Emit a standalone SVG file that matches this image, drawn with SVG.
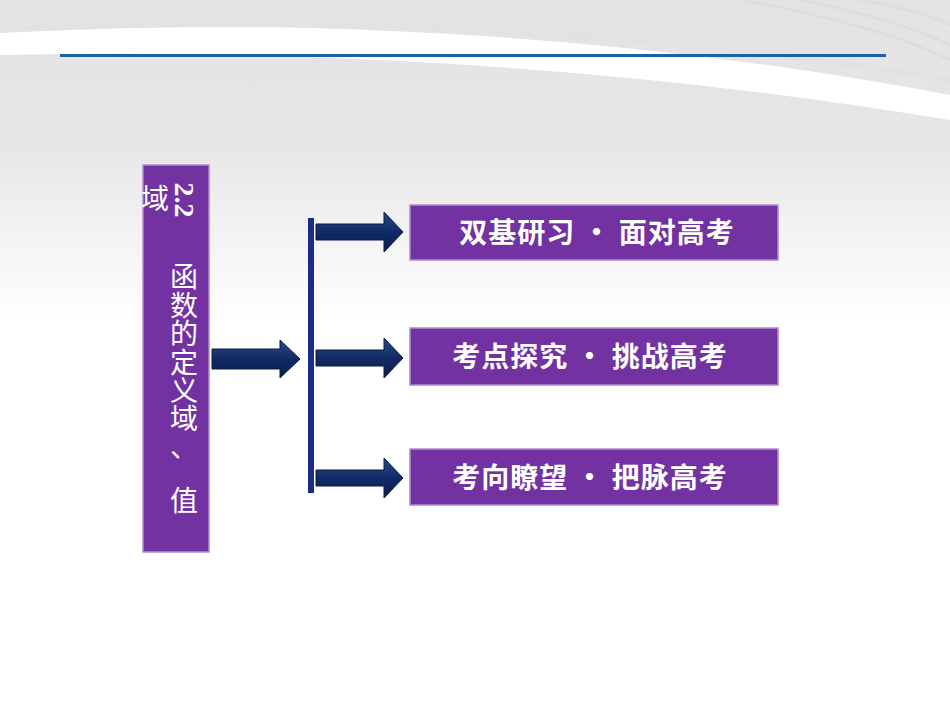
<svg xmlns="http://www.w3.org/2000/svg" width="950" height="713" viewBox="0 0 950 713">
<defs>
<linearGradient id="bg" x1="0" y1="0" x2="0" y2="1">
<stop offset="0" stop-color="#e3e3e3"/><stop offset="0.2" stop-color="#e6e6e6"/><stop offset="0.45" stop-color="#ffffff"/><stop offset="1" stop-color="#ffffff"/>
</linearGradient>
<linearGradient id="arr" x1="0" y1="0" x2="0" y2="1">
<stop offset="0" stop-color="#2a4a8a"/><stop offset="0.5" stop-color="#112a66"/><stop offset="1" stop-color="#0b1d4d"/>
</linearGradient>
<path id="sa" d="M0,-8 H68 V-20 L87,0 L68,20 V8 H0 Z"/>
</defs>
<style>
.box{fill:#7232a2;stroke:#b08ad0;stroke-width:1.5}
.lbl{font-family:"Noto Sans CJK SC",sans-serif;font-weight:bold;font-size:28px;fill:#fff;text-anchor:middle;letter-spacing:1px}
.v{font-family:"Liberation Serif","Noto Sans CJK SC",serif;font-size:28px;fill:#fff;text-anchor:middle}
.a{fill:url(#arr);stroke:#0a1a44;stroke-width:1}
</style>
<rect width="950" height="713" fill="url(#bg)"/>
<path d="M0,30 Q500,10 950,95 L950,120 Q500,45 0,55 Z" fill="#ffffff"/>
<path d="M0,30 Q500,5 950,80" fill="none" stroke="#e2e2e2" stroke-width="6"/>
<path d="M800,0 Q900,20 950,45 M860,0 Q920,10 950,25 M740,0 Q880,25 950,60" fill="none" stroke="#dcdcdc" stroke-width="2"/>
<rect x="60" y="54" width="826" height="3" fill="#1f60aa"/>
<g id="title">
<rect class="box" x="143" y="165" width="66" height="387"/>
<text class="v" transform="translate(175,200) rotate(90)" style="font-weight:bold">2.2</text>
<text class="v" x="184" y="287">函</text>
<text class="v" x="184" y="316">数</text>
<text class="v" x="184" y="344">的</text>
<text class="v" x="184" y="373">定</text>
<text class="v" x="184" y="401">义</text>
<text class="v" x="184" y="429">域</text>
<text class="v" x="184" y="457">、</text>
<text class="v" x="184" y="511">值</text>
<text class="v" x="155" y="209">域</text>
</g>
<g id="connectors">
<path class="a" d="M212,349 H280 V340 L300,359 L280,378 V369 H212 Z"/>
<rect x="308" y="218" width="6" height="275" fill="#1c2a88"/>
<use class="a" href="#sa" x="316" y="232"/>
<use class="a" href="#sa" x="316" y="358"/>
<use class="a" href="#sa" x="316" y="478"/>
</g>
<g id="n1"><rect class="box" x="410" y="205" width="368" height="55"/><text class="lbl" x="597" y="243">双基研习 · 面对高考</text></g>
<g id="n2"><rect class="box" x="410" y="328" width="368" height="57"/><text class="lbl" x="590" y="367">考点探究 · 挑战高考</text></g>
<g id="n3"><rect class="box" x="410" y="449" width="368" height="56"/><text class="lbl" x="590" y="488">考向瞭望 · 把脉高考</text></g>
</svg>
